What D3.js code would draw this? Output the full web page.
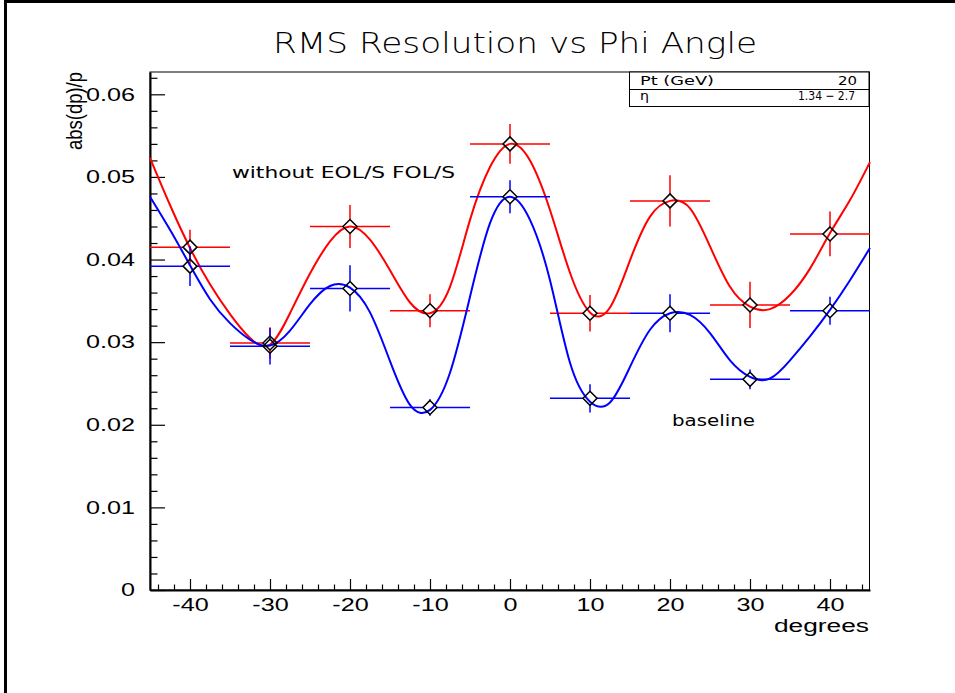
<!DOCTYPE html>
<html>
<head>
<meta charset="utf-8">
<script src="https://cdn.jsdelivr.net/npm/d3@7"></script>
<style>
  body { margin: 0; background: #fff; }
  svg { display: block; }
</style>
</head>
<body>
<svg width="955" height="693"></svg>
<script>
// RMS resolution vs phi, two configurations with fitted curves

var degrees = [-40, -30, -20, -10, 0, 10, 20, 30, 40];
var binHalf = 5;

// red: without EOL/S FOL/S
var withoutVals = [0.0415, 0.0299, 0.0440, 0.0338, 0.0540, 0.0335, 0.0471, 0.0345, 0.0431];
var withoutErr  = [0.0021, 0.0019, 0.0026, 0.0020, 0.0024, 0.0022, 0.0031, 0.0028, 0.0027];
// blue: baseline
var baselineVals = [0.0392, 0.0295, 0.0365, 0.0221, 0.0476, 0.0232, 0.0335, 0.0255, 0.0338];
var baselineErr  = [0.0024, 0.0022, 0.0028, 0.0010, 0.0020, 0.0017, 0.0023, 0.0012, 0.0017];

// fitted curves, every 2.5 degrees
var fitDeg = [-45, -42.5, -40, -37.5, -35, -32.5, -30, -27.5, -25, -22.5, -20, -17.5, -15, -12.5, -10, -7.5, -5, -2.5,
              0, 2.5, 5, 7.5, 10, 12.5, 15, 17.5, 20, 22.5, 25, 27.5, 30, 32.5, 35, 37.5, 40, 42.5, 45];
var withoutFit = [0.0523, 0.0466, 0.0414, 0.0370, 0.0334, 0.0305, 0.0297, 0.0335, 0.0383, 0.0422, 0.0440, 0.0424,
                  0.0387, 0.0348, 0.0335, 0.0367, 0.0448, 0.0512, 0.0540, 0.0520, 0.0460, 0.0384, 0.0336, 0.0342,
                  0.0399, 0.0452, 0.0471, 0.0462, 0.0416, 0.0367, 0.0343, 0.0340, 0.0357, 0.0389, 0.0432, 0.0472, 0.0518];
var baselineFit = [0.0476, 0.0436, 0.0393, 0.0352, 0.0323, 0.0303, 0.0296, 0.0314, 0.0346, 0.0368, 0.0366, 0.0336,
                   0.0277, 0.0224, 0.0218, 0.0263, 0.0355, 0.0444, 0.0476, 0.0448, 0.0375, 0.0275, 0.0228, 0.0227,
                   0.0270, 0.0315, 0.0335, 0.0333, 0.0311, 0.0278, 0.0258, 0.0256, 0.0278, 0.0307, 0.0339, 0.0375, 0.0414];

var xMajor = [-40, -30, -20, -10, 0, 10, 20, 30, 40];
var xLabels = ["-40", "-30", "-20", "-10", "0", "10", "20", "30", "40"];
var xMinor = d3.range(-44, 45, 2).filter(function(d){ return d % 10 != 0 });
var yMajor = [0, 0.01, 0.02, 0.03, 0.04, 0.05, 0.06];
var yLabels = ["0", "0.01", "0.02", "0.03", "0.04", "0.05", "0.06"];
var yMinor = d3.range(0.002, 0.0627, 0.002).filter(function(d){ return Math.abs(d * 100 - Math.round(d * 100)) > 1e-6 });

var keyNames = ["Pt (GeV)", "\u03b7"];
var keyValues = ["20", "1.34 \u2212 2.7"];

var svg = d3.select("svg");
var sx = 1.4; // the original text is stretched sideways
var tickFont = "'Liberation Sans', Arial, sans-serif";
var labelFont = "'DejaVu Sans', sans-serif";

var x = d3.scaleLinear().domain([-45, 45]).range([150, 870]);
var y = d3.scaleLinear().domain([0, 0.0627]).range([590, 72]);

// outer pad border
svg.append("path")
  .attr("d", "M5.5,693V1.5H955")
  .attr("fill", "none").attr("stroke", "#000").attr("stroke-width", 3);

// frame
svg.append("rect")
  .attr("x", 150).attr("y", 72).attr("width", 719.5).attr("height", 518)
  .attr("fill", "none").attr("stroke", "#000").attr("stroke-width", 1);

// y axis
var yAx = svg.append("g").attr("transform", "translate(150,0)")
  .call(d3.axisLeft(y).tickValues(yMajor).tickSize(-15).tickSizeOuter(0).tickPadding(15)
    .tickFormat(function(d, i){ return yLabels[i] }));
svg.append("g").attr("transform", "translate(150,0)")
  .call(d3.axisLeft(y).tickValues(yMinor).tickSize(-7.5).tickSizeOuter(0).tickFormat(""))
  .select(".domain").remove();
yAx.select(".domain").attr("stroke-width", 2);
yAx.selectAll("text")
  .style("font-family", tickFont).style("font-size", "18px")
  .attr("fill", "#000")
  .attr("x", -15 / sx).attr("transform", "scale(" + sx + ",1)");

// x axis
var xAx = svg.append("g").attr("transform", "translate(0,590)")
  .call(d3.axisBottom(x).tickValues(xMajor).tickSize(-11).tickSizeOuter(0).tickPadding(8)
    .tickFormat(function(d, i){ return xLabels[i] }));
svg.append("g").attr("transform", "translate(0,590)")
  .call(d3.axisBottom(x).tickValues(xMinor).tickSize(-5.5).tickSizeOuter(0).tickFormat(""))
  .select(".domain").remove();
xAx.select(".domain").attr("stroke-width", 2);
xAx.selectAll("text")
  .style("font-family", tickFont).style("font-size", "18px")
  .attr("fill", "#000")
  .attr("transform", "scale(" + sx + ",1)");
svg.selectAll(".tick line").attr("stroke", "#000").attr("stroke-width", 1.2);

// axis titles
svg.append("text")
  .attr("x", 869).attr("y", 632)
  .attr("text-anchor", "end")
  .attr("textLength", 95).attr("lengthAdjust", "spacingAndGlyphs")
  .style("font-family", tickFont).style("font-size", "18px")
  .text("degrees");
svg.append("text")
  .attr("transform", "translate(82,72) rotate(-90) scale(1,1.25)")
  .attr("text-anchor", "end")
  .attr("textLength", 78).attr("lengthAdjust", "spacingAndGlyphs")
  .style("font-family", tickFont).style("font-size", "17px")
  .text("abs(dp)/p");

// title
svg.append("text")
  .attr("x", 273).attr("y", 53)
  .attr("textLength", 484).attr("lengthAdjust", "spacingAndGlyphs")
  .style("font-family", labelFont).style("font-weight", 200).style("font-size", "28px")
  .text("RMS Resolution vs Phi Angle");

// labels inside the plot
svg.append("text")
  .attr("x", 232).attr("y", 178)
  .attr("textLength", 223).attr("lengthAdjust", "spacingAndGlyphs")
  .style("font-family", labelFont).style("font-size", "15px")
  .text("without EOL/S FOL/S");
svg.append("text")
  .attr("x", 672).attr("y", 426)
  .attr("textLength", 83).attr("lengthAdjust", "spacingAndGlyphs")
  .style("font-family", labelFont).style("font-size", "15px")
  .text("baseline");

// key box top right
var key = svg.append("g");
key.append("rect").attr("x", 629.5).attr("y", 72).attr("width", 239.5).attr("height", 34.5)
  .attr("fill", "#fff").attr("stroke", "#000").attr("stroke-width", 1);
key.append("line").attr("x1", 629.5).attr("x2", 869).attr("y1", 89.5).attr("y2", 89.5)
  .attr("stroke", "#000").attr("stroke-width", 1);
var nameLen = [74, 9], valX = [838, 798], valLen = [19, 57];
keyNames.forEach(function(n, i){
  var by = 85 + i * 15;
  key.append("text").attr("x", 640).attr("y", by)
    .attr("textLength", nameLen[i]).attr("lengthAdjust", "spacingAndGlyphs")
    .style("font-family", labelFont).style("font-size", "12.5px")
    .text(n);
  key.append("text").attr("x", valX[i]).attr("y", by)
    .attr("textLength", valLen[i]).attr("lengthAdjust", "spacingAndGlyphs")
    .style("font-family", labelFont).style("font-size", "12.5px")
    .text(keyValues[i]);
});

var series = [
  {vals: withoutVals, err: withoutErr, fit: withoutFit, color: "#ff0000"},
  {vals: baselineVals, err: baselineErr, fit: baselineFit, color: "#0000ff"}
];
var gap = 7;

var plot = svg.append("g");

series.forEach(function(s){
  var pts = degrees.map(function(d, i){ return {d: d, v: s.vals[i], e: s.err[i]} });

  // error bars, gapped around the marker
  var eb = plot.append("g").attr("stroke", s.color).attr("stroke-width", 1.5).attr("fill", "none");
  eb.selectAll(".h").data(pts).enter().append("path")
    .attr("d", function(p){
      var cx = x(p.d), cy = y(p.v);
      return "M" + x(p.d - binHalf) + "," + cy + "H" + (cx - gap) +
             "M" + (cx + gap) + "," + cy + "H" + x(p.d + binHalf);
    });
  eb.selectAll(".v").data(pts).enter().append("path")
    .attr("d", function(p){
      var cx = x(p.d), cy = y(p.v);
      var top = Math.min(y(p.v + p.e), cy - gap), bot = Math.max(y(p.v - p.e), cy + gap);
      return "M" + cx + "," + top + "V" + (cy - gap) + "M" + cx + "," + (cy + gap) + "V" + bot;
    });

  // fit curve
  var line = d3.line()
    .x(function(d){ return x(d[0]) })
    .y(function(d){ return y(d[1]) })
    .curve(d3.curveNatural);
  plot.append("path")
    .datum(fitDeg.map(function(d, i){ return [d, s.fit[i]] }))
    .attr("d", line)
    .attr("fill", "none").attr("stroke", s.color).attr("stroke-width", 2);

  s.pts = pts;
});

// open diamond markers on top
series.forEach(function(s){
  plot.append("g").selectAll("path").data(s.pts).enter().append("path")
    .attr("transform", function(p){ return "translate(" + x(p.d) + "," + y(p.v) + ")" })
    .attr("d", "M0,-7L7,0L0,7L-7,0Z")
    .attr("fill", "none").attr("stroke", "#000").attr("stroke-width", 1.5);
});
</script>
</body>
</html>
